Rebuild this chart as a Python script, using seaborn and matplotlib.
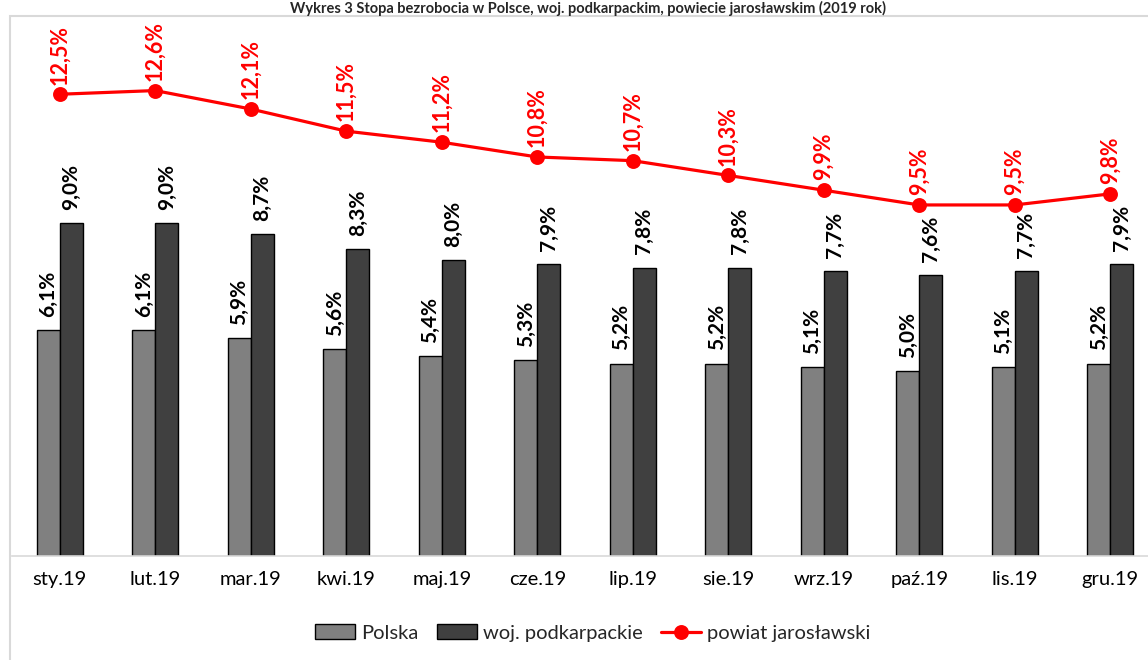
import numpy as np
import pandas as pd
import seaborn as sns
import matplotlib.pyplot as plt
from matplotlib.patches import Rectangle


# --------------------------------------------------
# data
# --------------------------------------------------

months = ["sty.19", "lut.19", "mar.19", "kwi.19", "maj.19", "cze.19",
          "lip.19", "sie.19", "wrz.19", "paź.19", "lis.19", "gru.19"]

polska = [6.1, 6.1, 5.9, 5.6, 5.4, 5.3, 5.2, 5.2, 5.1, 5.0, 5.1, 5.2]
podkarpackie = [9.0, 9.0, 8.7, 8.3, 8.0, 7.9, 7.8, 7.8, 7.7, 7.6, 7.7, 7.9]
jaroslawski = [12.5, 12.6, 12.1, 11.5, 11.2, 10.8, 10.7, 10.3, 9.9, 9.5, 9.5, 9.8]

series_names = ["Polska", "woj. podkarpackie", "powiat jarosławski"]
title = "Wykres 3 Stopa bezrobocia w Polsce, woj. podkarpackim, powiecie jarosławskim (2019 rok)"


def pct(v):
    return f"{v:.1f}%".replace(".", ",")


# long table for the grouped bars
bars = pd.DataFrame({
    "month": months * 2,
    "value": polska + podkarpackie,
    "series": [series_names[0]] * len(months) + [series_names[1]] * len(months),
})
line = pd.DataFrame({"month": months, "value": jaroslawski})


# --------------------------------------------------
# style
# --------------------------------------------------

sns.set_style("white")
plt.rcParams["font.family"] = ["Lato", "DejaVu Sans"]

fig = plt.figure(figsize=(11.48, 6.6), dpi=100)
ax = fig.add_axes([12 / 1148, 104.5 / 660, 1146 / 1148, 553.5 / 660])

grid_grey = "#d9d9d9"


# --------------------------------------------------
# bars + line
# --------------------------------------------------

sns.barplot(
    data=bars, x="month", y="value", hue="series",
    palette=["#808080", "#404040"],
    width=0.48, edgecolor="black", linewidth=1,
    errorbar=None, ax=ax,
)

sns.pointplot(
    data=line, x="month", y="value",
    color="#ff0000", markers="o", markersize=9, linewidth=2.3,
    errorbar=None, label=series_names[2], ax=ax,
)

# bar labels
for cont in ax.containers[:2]:
    for rect in cont:
        h = rect.get_height()
        ax.annotate(pct(h), (rect.get_x() + rect.get_width() / 2, h),
                    xytext=(0, 9.5), textcoords="offset points",
                    rotation=90, ha="center", va="bottom",
                    fontsize=15, fontweight="bold", color="black")

# line labels
for i, v in enumerate(jaroslawski):
    ax.annotate(pct(v), (i, v), xytext=(0, 7), textcoords="offset points",
                rotation=90, ha="center", va="bottom",
                fontsize=15.5, fontweight="bold", color="#ff0000")


# --------------------------------------------------
# axes cosmetics
# --------------------------------------------------

ax.set_ylim(0, 15)
ax.set_xlim(-0.5, len(months) - 0.5)
ax.set_yticks([])
ax.set_xlabel("")
ax.set_ylabel("")

for side in ["top", "left", "right"]:
    ax.spines[side].set_visible(False)
ax.spines["bottom"].set_color(grid_grey)
ax.spines["bottom"].set_linewidth(1.2)

ax.tick_params(axis="x", which="major", length=0, pad=11, labelsize=14.5, colors="black")
ax.set_xticks(np.arange(-0.5, len(months)), minor=True)
ax.tick_params(axis="x", which="minor", length=5, width=1.2, color=grid_grey)

handles, labels = ax.get_legend_handles_labels()
if ax.get_legend() is not None:
    ax.get_legend().remove()
fig.legend(handles, labels, loc="center", bbox_to_anchor=(593 / 1148, 27 / 660),
           ncol=3, frameon=False, fontsize=14.5, handlelength=2.0,
           handletextpad=0.3, columnspacing=0.9)

# outer chart frame and title (kept fully inside the picture)
fig.patches.append(Rectangle((10 / 1148, -0.05), 1.2, (660 - 16) / 660 + 0.05,
                             transform=fig.transFigure, fill=False,
                             edgecolor=grid_grey, linewidth=1.5))
fig.text(588 / 1148, (660 - 1) / 660, title, ha="center", va="top",
         fontsize=10.5, fontweight="bold")

fig.savefig("out.png", dpi=100)
